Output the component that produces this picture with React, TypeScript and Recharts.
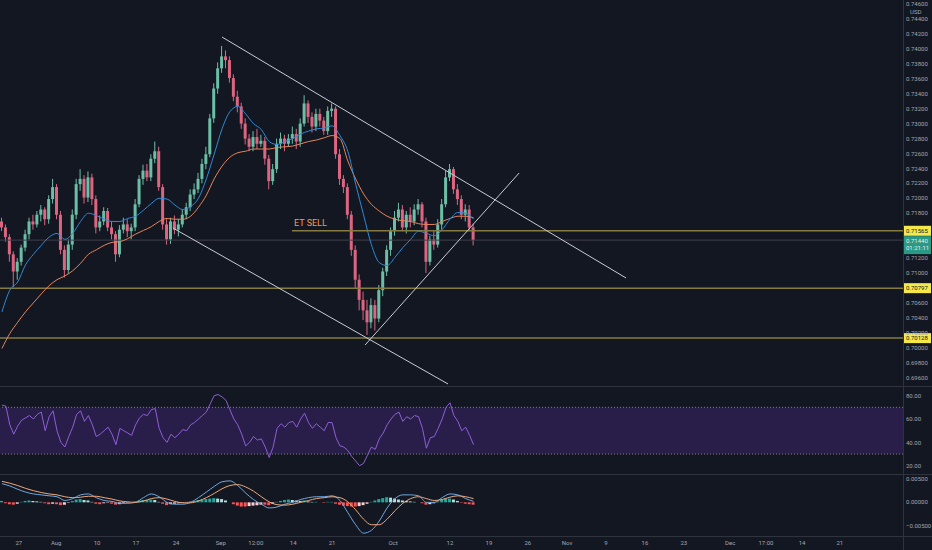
import {
  Bar,
  Cell,
  ComposedChart,
  Line,
  ReferenceArea,
  ReferenceLine,
  XAxis,
  YAxis,
} from "recharts";

// two candles per trading day, slot 0 is the first visible candle
const opens = [
  0.7169, 0.7161, 0.7148, 0.7125, 0.7102, 0.7115, 0.7134, 0.7152, 0.7169, 0.7165,
  0.7178, 0.7185, 0.7172, 0.7199, 0.7215, 0.7178, 0.7131, 0.7104, 0.7138, 0.7178,
  0.7219, 0.7226, 0.7201, 0.7228, 0.7199, 0.7161, 0.7169, 0.7183, 0.7161, 0.7152,
  0.7125, 0.7158, 0.7165, 0.7156, 0.7161, 0.7192, 0.7226, 0.7237, 0.7228, 0.7253,
  0.7263, 0.7215, 0.7165, 0.7145, 0.7169, 0.7158, 0.7165, 0.7178, 0.7188, 0.7205,
  0.7212, 0.7226, 0.7246, 0.7259, 0.7307, 0.7347, 0.7374, 0.739, 0.7385, 0.7361,
  0.7336, 0.7323, 0.73, 0.728, 0.7269, 0.7282, 0.7273, 0.7277, 0.7253, 0.7223,
  0.7239, 0.7273, 0.728, 0.7273, 0.728, 0.7286, 0.7276, 0.73, 0.7327, 0.7309,
  0.7296, 0.7313, 0.7304, 0.729, 0.7317, 0.732, 0.7259, 0.7226, 0.7215, 0.7178,
  0.7131, 0.7091, 0.7064, 0.705, 0.7034, 0.7057, 0.7039, 0.7077, 0.7102, 0.7131,
  0.7156, 0.7174, 0.7185, 0.7161, 0.7178, 0.7169, 0.7185, 0.7192, 0.7169, 0.7115,
  0.7145, 0.7138, 0.7165, 0.7192, 0.7228, 0.7239, 0.7212, 0.7199, 0.7178, 0.7185,
  0.7161,
];

const highs = [
  0.7174, 0.7165, 0.7152, 0.7129, 0.712, 0.7138, 0.7158, 0.7174, 0.7178, 0.7183,
  0.7191, 0.7188, 0.7204, 0.7226, 0.7219, 0.7183, 0.7137, 0.7145, 0.7185, 0.7226,
  0.7239, 0.7231, 0.7236, 0.7233, 0.7204, 0.7177, 0.7188, 0.7187, 0.7169, 0.7156,
  0.7164, 0.7174, 0.7172, 0.7166, 0.7199, 0.7231, 0.7245, 0.7246, 0.7259, 0.7276,
  0.7269, 0.7219, 0.7172, 0.7174, 0.7177, 0.7172, 0.7185, 0.7194, 0.7212, 0.722,
  0.7234, 0.7253, 0.7269, 0.7313, 0.7354, 0.7382, 0.7404, 0.7398, 0.739, 0.7366,
  0.7344, 0.7328, 0.7307, 0.7286, 0.729, 0.7293, 0.7285, 0.7282, 0.7258, 0.7246,
  0.728, 0.7288, 0.7285, 0.7286, 0.7296, 0.7293, 0.7307, 0.7338, 0.7331, 0.7315,
  0.732, 0.732, 0.7309, 0.7323, 0.7327, 0.7323, 0.7266, 0.7231, 0.722, 0.7183,
  0.7137, 0.7098, 0.7075, 0.7064, 0.7066, 0.7064, 0.7084, 0.7107, 0.7137, 0.7161,
  0.7183, 0.7194, 0.7191, 0.7183, 0.7188, 0.7192, 0.7199, 0.7195, 0.7174, 0.715,
  0.7156, 0.7172, 0.7199, 0.7237, 0.7246, 0.7242, 0.7219, 0.7204, 0.7192, 0.7191,
  0.7166,
];

const lows = [
  0.7156, 0.7142, 0.7115, 0.7081, 0.7091, 0.711, 0.7129, 0.7145, 0.7158, 0.7161,
  0.7169, 0.7164, 0.7166, 0.7193, 0.7172, 0.7125, 0.7094, 0.7099, 0.7131, 0.7172,
  0.721, 0.7193, 0.7195, 0.7191, 0.7153, 0.7156, 0.7164, 0.7156, 0.7145, 0.7115,
  0.7121, 0.7153, 0.7148, 0.7145, 0.7156, 0.7188, 0.7218, 0.7223, 0.7223, 0.7247,
  0.721, 0.7158, 0.7138, 0.7139, 0.7152, 0.7149, 0.7161, 0.7172, 0.7183, 0.7199,
  0.7207, 0.722, 0.7239, 0.7255, 0.7301, 0.734, 0.7368, 0.7374, 0.7355, 0.733,
  0.7315, 0.7293, 0.7272, 0.7263, 0.7263, 0.7266, 0.7269, 0.7245, 0.7212, 0.7218,
  0.7234, 0.7266, 0.7263, 0.7269, 0.7273, 0.7266, 0.7269, 0.7296, 0.7301, 0.7288,
  0.729, 0.7296, 0.7285, 0.7285, 0.7309, 0.7253, 0.7218, 0.7207, 0.7172, 0.7123,
  0.708, 0.705, 0.7037, 0.7017, 0.7026, 0.7023, 0.7034, 0.7069, 0.7096, 0.7123,
  0.715, 0.7169, 0.7156, 0.7153, 0.7161, 0.7164, 0.7178, 0.7161, 0.71, 0.711,
  0.7131, 0.7134, 0.7158, 0.7188, 0.7223, 0.7206, 0.7191, 0.7172, 0.7169, 0.7156,
  0.7137,
];

const closes = [
  0.7161, 0.7148, 0.7125, 0.7102, 0.7115, 0.7134, 0.7152, 0.7169, 0.7165, 0.7178,
  0.7185, 0.7172, 0.7199, 0.7215, 0.7178, 0.7131, 0.7104, 0.7138, 0.7178, 0.7219,
  0.7226, 0.7201, 0.7228, 0.7199, 0.7161, 0.7169, 0.7183, 0.7161, 0.7152, 0.7125,
  0.7158, 0.7165, 0.7156, 0.7161, 0.7192, 0.7226, 0.7237, 0.7228, 0.7253, 0.7263,
  0.7215, 0.7165, 0.7145, 0.7169, 0.7158, 0.7165, 0.7178, 0.7188, 0.7205, 0.7212,
  0.7226, 0.7246, 0.7259, 0.7307, 0.7347, 0.7374, 0.739, 0.7385, 0.7361, 0.7336,
  0.7323, 0.73, 0.728, 0.7269, 0.7282, 0.7273, 0.7277, 0.7253, 0.7223, 0.7239,
  0.7273, 0.728, 0.7273, 0.728, 0.7286, 0.7276, 0.73, 0.7327, 0.7309, 0.7296,
  0.7313, 0.7304, 0.729, 0.7317, 0.732, 0.7259, 0.7226, 0.7215, 0.7178, 0.7131,
  0.7091, 0.7064, 0.705, 0.7034, 0.7057, 0.7039, 0.7077, 0.7102, 0.7131, 0.7156,
  0.7174, 0.7185, 0.7161, 0.7178, 0.7169, 0.7185, 0.7192, 0.7169, 0.7115, 0.7145,
  0.7138, 0.7165, 0.7192, 0.7228, 0.7239, 0.7212, 0.7199, 0.7178, 0.7185, 0.7161,
  0.7144,
];

// moving averages, one value per trading day (every second candle)
const fastAverage = [
  0.7048, 0.7077, 0.7088, 0.7111, 0.7125, 0.7137, 0.7148, 0.7153, 0.7145, 0.7153,
  0.7169, 0.718, 0.7177, 0.7172, 0.7169, 0.7169, 0.7173, 0.7176, 0.7184, 0.7193,
  0.72, 0.7199, 0.7191, 0.7185, 0.7189, 0.72, 0.7226, 0.7259, 0.7293, 0.7316,
  0.7323, 0.7313, 0.73, 0.7292, 0.7276, 0.7272, 0.7276, 0.728, 0.7286, 0.729,
  0.7293, 0.7294, 0.7297, 0.7284, 0.7263, 0.7219, 0.7178, 0.7138, 0.7114, 0.711,
  0.7121, 0.7134, 0.7145, 0.7156, 0.7153, 0.715, 0.7158, 0.7172, 0.7181, 0.718,
  0.7172,
];

const slowAverage = [
  0.6999, 0.7019, 0.7034, 0.7048, 0.706, 0.7072, 0.7083, 0.7091, 0.7096, 0.7103,
  0.7113, 0.7125, 0.7131, 0.7137, 0.7141, 0.7142, 0.7146, 0.7152, 0.7157, 0.7162,
  0.7169, 0.7173, 0.7172, 0.7172, 0.7176, 0.7188, 0.7204, 0.7226, 0.7243, 0.7255,
  0.7261, 0.7263, 0.7266, 0.7266, 0.7266, 0.7268, 0.7269, 0.727, 0.7273, 0.7276,
  0.7278, 0.7281, 0.7284, 0.728, 0.725, 0.7226, 0.7206, 0.7192, 0.7183, 0.7176,
  0.7172, 0.717, 0.7169, 0.7166, 0.7165, 0.7165, 0.7169, 0.7173, 0.7176, 0.7176,
  0.7174,
];

const rsiValues = [
  72, 71, 55, 47, 54, 59, 61, 63, 60, 64,
  66, 50, 62, 67, 50, 40, 36, 45, 53, 64,
  67, 58, 63, 55, 45, 47, 50, 53, 47, 38,
  52, 50, 48, 46, 55, 61, 64, 63, 68, 69,
  52, 44, 40, 47, 44, 47, 51, 50, 55, 57,
  60, 63, 66, 73, 80, 81, 79, 76, 68, 60,
  55, 47, 37, 40, 45, 42, 43, 36, 27, 36,
  52, 56, 53, 57, 58, 53, 60, 65, 57, 52,
  56, 53, 50, 57, 57, 44, 37, 36, 33, 28,
  24, 20, 22, 29, 36, 34, 43, 48, 55, 60,
  64, 66, 58, 62, 60, 63, 62, 52, 35, 44,
  45, 52, 60, 70, 74, 63, 58, 50, 53, 46,
  38,
];

// macd and signal once per trading day, histogram per candle
const macdValues = [
  0.004, 0.0035, 0.0028, 0.0022, 0.0018, 0.0016, 0.0014, 0.0012, 0.0004, 0.0008,
  0.0016, 0.0018, 0.001, 0.0004, 0.0002, -0.0002, -0.0002, 0.0, 0.001, 0.0018,
  0.0012, 0.0, -0.0004, -0.0004, 0.0, 0.001, 0.0022, 0.0034, 0.0044, 0.0046,
  0.0036, 0.002, 0.0006, -0.0004, -0.0012, -0.001, -0.0004, 0.0, 0.0006, 0.001,
  0.0012, 0.0012, 0.0014, 0.0004, -0.0022, -0.0048, -0.0066, -0.006, -0.004, -0.0012,
  0.0008, 0.0016, 0.0016, 0.0014, 0.0, 0.0, 0.001, 0.0018, 0.0016, 0.0008,
  0.0002,
];

const signalValues = [
  0.0045, 0.0041, 0.0036, 0.003, 0.0025, 0.0021, 0.0018, 0.0016, 0.0012, 0.001,
  0.0011, 0.0013, 0.0013, 0.001, 0.0007, 0.0003, 0.0001, 0.0, 0.0003, 0.0008,
  0.001, 0.0007, 0.0002, -0.0001, -0.0001, 0.0003, 0.001, 0.0019, 0.0029, 0.0036,
  0.0038, 0.0033, 0.0024, 0.0012, 0.0001, -0.0005, -0.0006, -0.0004, 0.0, 0.0004,
  0.0008, 0.001, 0.0012, 0.001, 0.0001, -0.0016, -0.0036, -0.0048, -0.0048, -0.0036,
  -0.0018, -0.0002, 0.0008, 0.0012, 0.0008, 0.0004, 0.0006, 0.0011, 0.0014, 0.0012,
  0.0008,
];

const histogramValues = [
  0.0003, -0.0002, -0.0004, -0.0005, -0.0003, 0.0001, 0.0003, 0.0004, 0.0003, 0.0002,
  0.0001, -0.0002, -0.0004, -0.0003, -0.0004, -0.0006, -0.0005, -0.0001, 0.0003, 0.0006,
  0.0007, 0.0005, 0.0004, 0.0001, -0.0003, -0.0004, -0.0002, -0.0001, -0.0003, -0.0005,
  -0.0004, -0.0002, -0.0001, 0.0, 0.0002, 0.0004, 0.0005, 0.0005, 0.0006, 0.0005,
  0.0001, -0.0003, -0.0006, -0.0004, -0.0003, -0.0002, -0.0001, 0.0001, 0.0002, 0.0003,
  0.0005, 0.0006, 0.0007, 0.0008, 0.0009, 0.0008, 0.0007, 0.0004, 0.0, -0.0004,
  -0.0007, -0.0009, -0.0009, -0.0008, -0.0007, -0.0006, -0.0005, -0.0005, -0.0006, -0.0003,
  0.0001, 0.0003, 0.0005, 0.0006, 0.0005, 0.0004, 0.0003, 0.0004, 0.0002, 0.0001,
  0.0001, 0.0, -0.0001, 0.0001, 0.0001, -0.0003, -0.0005, -0.0007, -0.0008, -0.0009,
  -0.0009, -0.0008, -0.0006, -0.0003, 0.0001, 0.0004, 0.0007, 0.0009, 0.0011, 0.001,
  0.0008, 0.0006, 0.0004, 0.0003, 0.0002, 0.0001, 0.0, -0.0002, -0.0005, -0.0004,
  -0.0002, 0.0002, 0.0005, 0.0008, 0.0008, 0.0006, 0.0003, -0.0001, -0.0003, -0.0004,
  -0.0005,
];

const priceTicks = [
  0.696, 0.698, 0.7, 0.702, 0.704, 0.706, 0.71, 0.712, 0.718, 0.72, 0.722, 0.724,
  0.726, 0.728, 0.73, 0.732, 0.734, 0.736, 0.738, 0.74, 0.742, 0.744, 0.746,
];

const timeTickSlots = [
  4.3, 13.8, 24.2, 34.1, 44.3, 55.7, 64.6, 74.1, 84, 99.5, 114, 123.9, 133.8, 143.8,
  153.7, 163.6, 173.5, 185.3, 194.4, 203.6, 213.2,
];
const timeTickLabels = [
  "27", "Aug", "10", "17", "24", "Sep", "12:00", "14", "21", "Oct", "12", "19", "26",
  "Nov", "9", "16", "23", "Dec", "17:00", "14", "21",
];

const sellLevel = 0.71565;
const sellLevelStartSlot = 73.8;
const supportLevels = [0.70797, 0.70128];
const supportLabels = ["0.70797", "0.70128"];
const lastPrice = 0.7144;
const countdown = "01:21:11";

const trendLines = [
  [{ x: 56, y: 0.74159 }, { x: 158.8, y: 0.70933 }],
  [{ x: 43.5, y: 0.71602 }, { x: 113.5, y: 0.69514 }],
  [{ x: 92.4, y: 0.70036 }, { x: 131.6, y: 0.72339 }],
];

const SLOT_DOMAIN: [number, number] = [-0.5, 229.27];
const AXIS_WIDTH = 29;
const NO_MARGIN = { top: 0, right: 0, bottom: 0, left: 0 };
const BACKGROUND = "#131722";
const UP_COLOR = "#6cbfa6";
const DOWN_COLOR = "#dc6580";
const LEVEL_COLOR = "#857b40";
const TAG_YELLOW = "#f5e84a";
const tickStyle = { fontSize: 6, fill: "#a3a6af", fontFamily: "Roboto, sans-serif" };

const candleRows = closes.map((close, slot) => ({
  slot,
  open: opens[slot],
  high: highs[slot],
  low: lows[slot],
  close,
  range: [lows[slot], highs[slot]],
  fast: slot % 2 === 0 ? fastAverage[slot / 2] : null,
  slow: slot % 2 === 0 ? slowAverage[slot / 2] : null,
}));

const rsiRows = rsiValues.map((rsi, slot) => ({ slot, rsi }));

const macdRows = histogramValues.map((hist, slot) => ({
  slot,
  hist,
  macd: slot % 2 === 0 ? macdValues[slot / 2] : null,
  signal: slot % 2 === 0 ? signalValues[slot / 2] : null,
}));

function histogramColor(value: number, previous: number) {
  if (value >= 0) return value >= previous ? "#26a69a" : "#b2dfdb";

  return value <= previous ? "#ff5252" : "#ffcdd2";
}

function Candle(props: any) {
  const { x, y, width, height, payload } = props;
  const { open, close, high, low } = payload;
  const color = close >= open ? UP_COLOR : DOWN_COLOR;
  const top = Math.min(y, y + height);
  const span = Math.abs(height);
  const pixelsPerPrice = span / (high - low);
  const bodyTop = top + (high - Math.max(open, close)) * pixelsPerPrice;
  const bodyHeight = Math.max(1, Math.abs(open - close) * pixelsPerPrice);
  const center = x + width / 2;

  return (
    <g>
      <line x1={center} x2={center} y1={top} y2={top + span} stroke={color} strokeWidth={1} />
      <rect x={x} y={bodyTop} width={width} height={bodyHeight} fill={color} />
    </g>
  );
}

function PriceTag(props: any) {
  const { viewBox, text, fill = TAG_YELLOW, color = "#131722" } = props;
  const right = viewBox.x + viewBox.width;

  return (
    <g>
      <rect x={right} y={viewBox.y - 5} width={AXIS_WIDTH - 1} height={10} fill={fill} />
      <text x={right + 3} y={viewBox.y + 2.2} fontSize={6} fill={color} fontFamily="Roboto, sans-serif">
        {text}
      </text>
    </g>
  );
}

function SellLabel(props: any) {
  const { viewBox } = props;

  return (
    <g>
      <text
        x={viewBox.x + 2}
        y={viewBox.y - 5}
        fontSize={9}
        fill="#f59d4c"
        fontFamily="Roboto, sans-serif"
      >
        ET SELL
      </text>
      <PriceTag viewBox={viewBox} text={sellLevel.toFixed(5)} />
    </g>
  );
}

function LastPriceTag(props: any) {
  const { viewBox } = props;
  const right = viewBox.x + viewBox.width;

  return (
    <g fontFamily="Roboto, sans-serif" fontSize={6} fill="#e6e9ef">
      <rect x={right} y={viewBox.y - 4} width={AXIS_WIDTH - 1} height={18} fill="#2a9a86" />
      <text x={right + 3} y={viewBox.y + 2.5}>{lastPrice.toFixed(5)}</text>
      <text x={right + 3} y={viewBox.y + 10}>{countdown}</text>
    </g>
  );
}

function Separator({ top, left = 0, width = 932, height = 1 }: any) {
  return (
    <div
      style={{ position: "absolute", top, left, width, height, background: "#2f333e" }}
    />
  );
}

export default function App() {
  return (
    <div style={{ position: "relative", width: 932, height: 550, background: BACKGROUND, overflow: "hidden" }}>
      <style>{`body{margin:0;background:${BACKGROUND};}`}</style>

      <div style={{ position: "absolute", top: 0, left: 0 }}>
        <ComposedChart width={932} height={386} data={candleRows} margin={NO_MARGIN}>
          <XAxis dataKey="slot" type="number" domain={SLOT_DOMAIN} allowDataOverflow hide />
          <YAxis
            orientation="right"
            width={AXIS_WIDTH}
            domain={[0.69487, 0.74655]}
            allowDataOverflow
            ticks={priceTicks}
            interval={0}
            tickFormatter={(value: number) => value.toFixed(5)}
            tick={tickStyle}
            tickLine={false}
            axisLine={false}
            tickSize={1}
            tickMargin={2}
          />

          <ReferenceLine y={lastPrice} stroke="#3d414c" strokeWidth={1} label={<LastPriceTag />} />

          {supportLevels.map((level, index) => (
            <ReferenceLine
              key={level}
              y={level}
              stroke={LEVEL_COLOR}
              strokeWidth={1.5}
              label={<PriceTag text={supportLabels[index]} />}
            />
          ))}

          <ReferenceLine
            segment={[
              { x: sellLevelStartSlot, y: sellLevel },
              { x: SLOT_DOMAIN[1], y: sellLevel },
            ]}
            stroke={LEVEL_COLOR}
            strokeWidth={1.5}
            ifOverflow="visible"
            label={<SellLabel />}
          />

          <Line
            type="monotone"
            dataKey="slow"
            stroke="#e8845a"
            strokeWidth={1}
            dot={false}
            activeDot={false}
            connectNulls
            isAnimationActive={false}
          />

          <Line
            type="monotone"
            dataKey="fast"
            stroke="#2f8ad8"
            strokeWidth={1}
            dot={false}
            activeDot={false}
            connectNulls
            isAnimationActive={false}
          />

          <Bar
            dataKey="range"
            barSize={3}
            isAnimationActive={false}
            shape={(props: any) => <Candle {...props} />}
          />

          {trendLines.map((segment, index) => (
            <ReferenceLine
              key={index}
              segment={segment}
              stroke="#c9ccd4"
              strokeWidth={1}
              ifOverflow="visible"
            />
          ))}
        </ComposedChart>
      </div>

      <div style={{ position: "absolute", top: 386, left: 0 }}>
        <ComposedChart width={932} height={88} data={rsiRows} margin={NO_MARGIN}>
          <XAxis dataKey="slot" type="number" domain={SLOT_DOMAIN} allowDataOverflow hide />
          <YAxis
            orientation="right"
            width={AXIS_WIDTH}
            domain={[12.9, 88.3]}
            allowDataOverflow
            ticks={[20, 40, 60, 80]}
            interval={0}
            tickFormatter={(value: number) => value.toFixed(2)}
            tick={tickStyle}
            tickLine={false}
            axisLine={false}
            tickSize={1}
            tickMargin={2}
          />

          <ReferenceArea y1={30} y2={70} fill="#6a35c0" fillOpacity={0.25} stroke="none" />
          <ReferenceLine y={70} stroke="#787b86" strokeDasharray="1 2" />
          <ReferenceLine y={30} stroke="#787b86" strokeDasharray="1 2" />

          <Line
            type="linear"
            dataKey="rsi"
            stroke="#8c5fd6"
            strokeWidth={1}
            dot={false}
            activeDot={false}
            isAnimationActive={false}
          />
        </ComposedChart>
      </div>

      <div style={{ position: "absolute", top: 474, left: 0 }}>
        <ComposedChart width={932} height={76} data={macdRows} margin={NO_MARGIN}>
          <XAxis
            dataKey="slot"
            type="number"
            domain={SLOT_DOMAIN}
            allowDataOverflow
            ticks={timeTickSlots}
            interval={0}
            tickFormatter={(value: number) => timeTickLabels[timeTickSlots.indexOf(value)] ?? ""}
            tick={tickStyle}
            tickLine={false}
            axisLine={false}
            height={14}
            tickSize={0}
            tickMargin={5}
          />
          <YAxis
            orientation="right"
            width={AXIS_WIDTH}
            domain={[-0.00721, 0.00607]}
            allowDataOverflow
            ticks={[-0.005, 0, 0.005]}
            interval={0}
            tickFormatter={(value: number) => value.toFixed(5).replace("-", "−")}
            tick={tickStyle}
            tickLine={false}
            axisLine={false}
            tickSize={1}
            tickMargin={2}
          />

          <Bar dataKey="hist" barSize={3} isAnimationActive={false}>
            {macdRows.map((row, index) => (
              <Cell
                key={row.slot}
                fill={histogramColor(row.hist, index > 0 ? histogramValues[index - 1] : 0)}
              />
            ))}
          </Bar>

          <Line
            type="monotone"
            dataKey="macd"
            stroke="#6fa8e0"
            strokeWidth={1}
            dot={false}
            activeDot={false}
            connectNulls
            isAnimationActive={false}
          />

          <Line
            type="monotone"
            dataKey="signal"
            stroke="#eea77a"
            strokeWidth={1}
            dot={false}
            activeDot={false}
            connectNulls
            isAnimationActive={false}
          />
        </ComposedChart>
      </div>

      <Separator top={386} />
      <Separator top={474} />
      <Separator top={536} />
      <Separator top={0} left={903} width={1} height={550} />

      <div
        style={{
          position: "absolute",
          top: 8,
          left: 910,
          fontSize: 6,
          lineHeight: "7px",
          color: "#a3a6af",
          fontFamily: "Roboto, sans-serif",
        }}
      >
        USD
      </div>
    </div>
  );
}
